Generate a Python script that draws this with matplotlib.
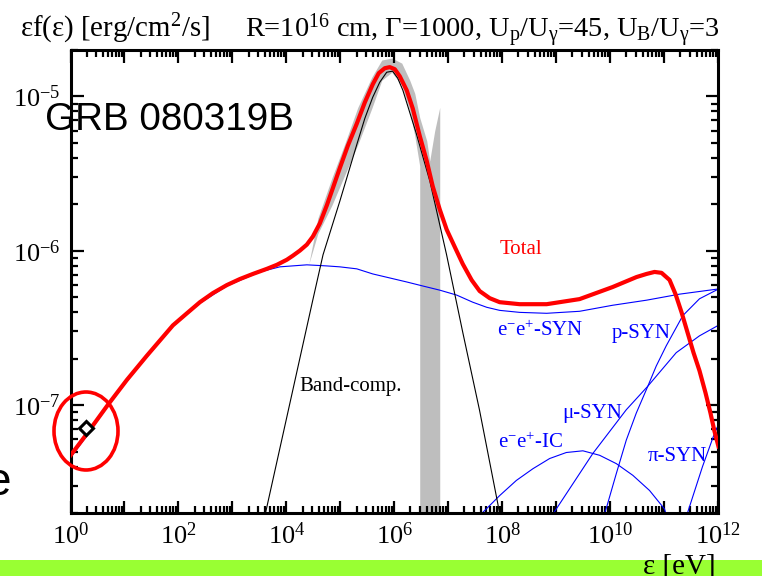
import matplotlib
matplotlib.use("Agg")
import matplotlib.pyplot as plt
import matplotlib.patches as mpatches
from matplotlib.ticker import LogLocator, FuncFormatter, NullFormatter
import numpy as np

plt.rcParams.update({
    "font.family": "Liberation Serif",
    "mathtext.fontset": "custom",
    "mathtext.rm": "Liberation Serif",
    "mathtext.it": "Liberation Serif:italic",
    "mathtext.bf": "Liberation Serif:bold",
})

RED = "#ff0000"
BLUE = "#0000ff"
GRAY = "#bebebe"
GREEN = "#99ff33"

# all spectra stored as log10(eps [eV]) and log10(eps f(eps) [erg/cm2/s])
total_logE = [0.000, 0.269, 0.676, 1.046, 1.417, 1.898, 2.157, 2.398, 2.639, 2.898,
              3.139, 3.380, 3.639, 3.824, 4.009, 4.120, 4.250, 4.380, 4.491, 4.620,
              4.750, 4.861, 4.991, 5.139, 5.306, 5.454, 5.602, 5.713, 5.824, 5.917,
              6.009, 6.102, 6.231, 6.343, 6.472, 6.602, 6.713, 6.843, 6.972, 7.120,
              7.269, 7.435, 7.583, 7.769, 7.954, 8.324, 8.824, 9.435, 10.046, 10.491,
              10.676, 10.824, 10.954, 11.102, 11.213, 11.324, 11.435, 11.546, 11.657,
              11.769, 11.861, 11.935, 12.009]
total_logF = [-7.326, -7.202, -7.006, -6.836, -6.679, -6.483, -6.405, -6.333, -6.274,
              -6.222, -6.183, -6.150, -6.117, -6.091, -6.058, -6.032, -5.999, -5.960,
              -5.908, -5.823, -5.706, -5.595, -5.464, -5.320, -5.176, -5.039, -4.921,
              -4.849, -4.817, -4.810, -4.823, -4.869, -4.960, -5.078, -5.255, -5.418,
              -5.582, -5.732, -5.863, -5.974, -6.085, -6.190, -6.261, -6.307, -6.333,
              -6.346, -6.346, -6.313, -6.235, -6.170, -6.150, -6.137, -6.143, -6.189,
              -6.281, -6.398, -6.529, -6.660, -6.777, -6.921, -7.052, -7.170, -7.268]

esyn_logE = [0.000, 0.269, 0.676, 1.046, 1.417, 1.898, 2.398, 2.898, 3.380, 3.509,
             3.880, 4.380, 4.750, 4.991, 5.306, 5.602, 5.917, 6.231, 6.528, 6.843,
             7.157, 7.454, 7.713, 7.954, 8.324, 8.824, 9.435, 10.046, 10.676, 11.287,
             11.991]
esyn_logF = [-7.340, -7.215, -7.015, -6.845, -6.688, -6.490, -6.340, -6.228, -6.156,
             -6.137, -6.104, -6.091, -6.098, -6.104, -6.117, -6.150, -6.176, -6.202,
             -6.228, -6.255, -6.287, -6.333, -6.366, -6.386, -6.399, -6.405, -6.392,
             -6.353, -6.320, -6.281, -6.248]

band_logE = [3.55, 4.49, 4.68, 4.99, 5.31, 5.454, 5.60, 5.731, 5.86, 5.97, 6.065, 6.16,
             6.41, 6.66, 6.97, 7.27, 7.58, 7.92, 8.00]
band_logF = [-7.80, -6.320, -6.026, -5.680, -5.307, -5.143, -5.006, -4.908, -4.843,
             -4.836, -4.882, -4.960, -5.242, -5.549, -6.026, -6.529, -7.032, -7.640,
             -7.80]

psyn_logE = [9.861, 9.935, 10.115, 10.300, 10.485, 10.700, 10.855, 11.040, 11.348,
             11.657, 11.996]
psyn_logF = [-7.738, -7.662, -7.444, -7.227, -7.052, -6.877, -6.747, -6.616, -6.420,
             -6.311, -6.250]

musyn_logE = [8.880, 9.065, 9.681, 10.300, 10.700, 11.226, 11.657, 11.996]
musyn_logF = [-7.738, -7.640, -7.313, -7.030, -6.877, -6.660, -6.551, -6.485]

pisyn_logE = [11.398, 11.713, 11.935, 12.02]
pisyn_logF = [-7.738, -7.398, -7.183, -7.117]

eic_logE = [7.546, 7.644, 7.954, 8.263, 8.570, 8.880, 9.189, 9.496, 9.806, 10.115,
            10.422, 10.731, 11.009, 11.065]
eic_logF = [-7.738, -7.694, -7.586, -7.488, -7.412, -7.346, -7.307, -7.296, -7.325,
            -7.379, -7.455, -7.553, -7.673, -7.738]

# observed spectrum region (upper / lower envelope)
obs_logE = [4.417, 4.583, 4.843, 5.083, 5.324, 5.583, 5.769, 5.954, 6.139, 6.287,
            6.380, 6.472, 6.4721, 6.602, 6.657, 6.750, 6.843]
obs_hi = [-6.085, -5.790, -5.529, -5.307, -5.071, -4.875, -4.764, -4.751, -4.784,
          -4.895, -4.980, -5.137, -5.137, -5.287, -5.418, -5.222, -5.071]
obs_lo = [-6.085, -5.889, -5.706, -5.509, -5.313, -5.078, -4.895, -4.843, -4.928,
          -5.091, -5.255, -5.451, -8.0, -8.0, -8.0, -8.0, -8.0]

# low-energy (optical) point
opt_logE = [0.287]
opt_logF = [-7.150]


def p(a):
    return 10.0 ** np.asarray(a)


fig = plt.figure(figsize=(7.62, 5.76), dpi=100)
fig.add_artist(mpatches.Rectangle((0, 0), 1, 16 / 576, transform=fig.transFigure,
                                  color=GREEN, lw=0, zorder=0))

ax = fig.add_axes([70.5 / 762, 1 - 513 / 576, 647.5 / 762, 463 / 576])
ax.set_xscale("log")
ax.set_yscale("log")
ax.set_xlim(1, 1e12)
ax.set_ylim(2e-8, 2e-5)

ax.fill_between(p(obs_logE), p(obs_lo), p(obs_hi), color=GRAY, lw=0, zorder=1)
ax.plot(p(esyn_logE), p(esyn_logF), color=BLUE, lw=0.8, zorder=2)
for xs, ys in [(psyn_logE, psyn_logF), (musyn_logE, musyn_logF),
               (pisyn_logE, pisyn_logF), (eic_logE, eic_logF)]:
    ax.plot(p(xs), p(ys), color=BLUE, lw=0.8, zorder=2)
ax.plot(p(band_logE), p(band_logF), color="black", lw=0.8, zorder=3)
ax.plot(p(total_logE), p(total_logF), color=RED, lw=3.0, zorder=4,
        solid_joinstyle="round")
ax.plot(p(opt_logE), p(opt_logF), ls="none", marker="D", ms=7.5, mfc="white",
        mec="black", mew=2.2, zorder=6, clip_on=False)

lab = dict(fontsize=15, va="baseline", ha="left")
ax.text(p(7.95), p(-6.019), "Total", color=RED, **lab)
ax.text(p(7.90), p(-6.549), r"e$^{-}$e$^{+}$-SYN", color=BLUE, **lab)
ax.text(p(10.03), p(-6.562), "p-SYN", color=BLUE, **lab)
ax.text(p(9.12), p(-7.085), "μ-SYN", color=BLUE, **lab)
ax.text(p(7.92), p(-7.281), r"e$^{-}$e$^{+}$-IC", color=BLUE, **lab)
ax.text(p(10.69), p(-7.359), "π-SYN", color=BLUE, **lab)
ax.text(p(4.25), p(-6.908), "Band-comp.", color="black", **lab)

# axes styling: inward ticks on every side
for s in ax.spines.values():
    s.set_linewidth(2.2)
ax.tick_params(which="both", direction="in", top=True, right=True,
               labelsize=19, pad=7, width=1.6)
ax.tick_params(which="major", length=9)
ax.tick_params(which="minor", length=5)

ax.xaxis.set_major_locator(LogLocator(base=10, subs=(1.0,), numticks=30))
ax.xaxis.set_minor_locator(LogLocator(base=10, subs=np.arange(2, 10), numticks=300))
ax.yaxis.set_major_locator(LogLocator(base=10, subs=(1.0,), numticks=30))
ax.yaxis.set_minor_locator(LogLocator(base=10, subs=np.arange(2, 10), numticks=300))


def xfmt(v, pos):
    n = int(round(np.log10(v)))
    return r"10$^{%d}$" % n if n % 2 == 0 else ""


def yfmt(v, pos):
    n = int(round(np.log10(v)))
    return r"10$^{%d}$" % n


ax.xaxis.set_major_formatter(FuncFormatter(xfmt))
ax.yaxis.set_major_formatter(FuncFormatter(yfmt))
ax.xaxis.set_minor_formatter(NullFormatter())
ax.yaxis.set_minor_formatter(NullFormatter())

# header and axis titles
fig.text(20 / 762, 1 - 37 / 576, r"εf(ε) [erg/cm$^{2}$/s]", fontsize=20.8, va="baseline")
fig.text(245 / 762, 1 - 38 / 576,
         r"R=10$^{16}$ cm, Γ=1000, U$_{\mathrm{p}}$/U$_{\mathrm{γ}}$=45, "
         r"U$_{\mathrm{B}}$/U$_{\mathrm{γ}}$=3", fontsize=20.4, va="baseline")
fig.text(643 / 762, 1 - 573 / 576, "ε [eV]", fontsize=21, va="baseline", zorder=5)

fig.text(45 / 762, 1 - 130 / 576, "GRB 080319B", family="Liberation Sans",
         fontsize=27.8, va="baseline", zorder=10)
fig.text(11 / 762, 1 - 495 / 576, "e", family="Liberation Sans",
         fontsize=33, va="baseline", ha="right", zorder=10)

fig.add_artist(mpatches.Ellipse((86 / 762, 1 - 431 / 576), 64 / 762, 78 / 576,
                                transform=fig.transFigure, fill=False,
                                ec=RED, lw=2.6, zorder=10))

fig.savefig("out.png", dpi=100)
